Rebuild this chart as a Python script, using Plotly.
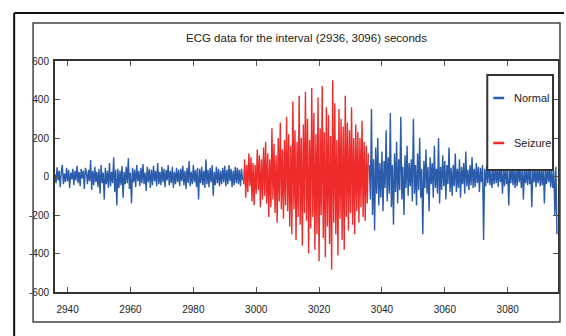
import numpy as np
import plotly.graph_objects as go

# Sampling set-up for the three ECG segments (samples per second)
fs = 3
normal_start_1 = 2936
seizure_start = 2996
normal_start_2 = 3036

# ECG amplitude, first normal segment (2936-2996 s)
normal_1 = [
    12, -35, 48, -20, 30, -55, 25, 60, -40, 15, -30, 45, -25, 35, -60, 20, -15, 40, -45, 30,
    -20, 55, -35, 25, -50, 40, -10, 30, -65, 45, 20, -40, 35, -25, 85, -70, 30, -45, 50, -30,
    25, -55, 40, -90, 60, -35, 20, -120, 45, -40, 30, -60, 70, -50, 25, -35, 100, -80, 35, -150,
    40, -60, 30, -45, 55, -110, 25, -40, 50, -35, 95, -65, 20, -140, 45, -30, 35, -55, 60, -25,
    30, -50, 45, -35, 65, -40, 20, -75, 50, -30, 40, -60, 35, -45, 55, -25, 30, -50, 70, -40,
    25, -45, 50, -30, 40, -55, 35, -20, 60, -45, 30, -35, 50, -60, 25, -40, 45, -30, 35, -50,
    40, -25, 55, -45, 30, -65, 45, -35, 80, -50, 25, -40, 60, -30, 35, -55, 45, -120, 40, -35,
    50, -45, 30, -60, 90, -40, 35, -55, 45, -30, 60, -100, 25, -45, 50, -35, 40, -50, 30, -40,
    45, -30, 55, -50, 35, -40, 60, -25, 40, -55, 30, -45, 50, -35, 45, -40, 35, -50, 40, -20,
]

# ECG amplitude during the seizure (2996-3036 s)
seizure = [
    -40, 90, -110, 60, -80, 120, -50, 100, -130, 70, -150, 60, -90, 140, -70, 110, -160, 90, -120, 150,
    -100, 180, -140, 120, -210, 90, -160, 250, -120, 170, -190, 110, -240, 200, -130, 280, -170, 140, -220, 190,
    -150, 310, -180, 220, -260, 160, -300, 390, -170, 240, -330, 180, -210, 420, -250, 200, -360, 270, -190, 440,
    -230, 300, -400, 190, -270, 460, -210, 330, -380, 220, -300, 410, -440, 250, -200, 470, -320, 230, -420, 360,
    -260, 320, -350, 210, -485, 500, -240, 380, -300, 190, -410, 350, -220, 300, -330, 260, -380, 420, -210, 280,
    -280, 240, -190, 360, -250, 200, -300, 270, -180, 230, -240, 200, -160, 290, -210, 180, -230, 160, -140, 120,
]

# ECG amplitude, second normal segment (3036-3096 s)
normal_2 = [
    60, -120, 350, -200, 90, -280, 150, -90, 200, -150, 70, -110, 130, -180, 80, -60, 240, -130, 100, -90,
    330, -160, 60, -250, 120, -80, 180, -140, 90, -70, 310, -120, 50, -200, 110, -60, 160, -100, 70, -50,
    90, -130, 300, -90, 60, -150, 120, -70, 200, -110, 40, -300, 80, -60, 140, -90, 50, -180, 100, -40,
    70, -110, 160, -60, 40, -90, 200, -140, 50, -70, 110, -50, 80, -120, 60, -40, 150, -80, 45, -100,
    60, -50, 120, -80, 40, -60, 90, -110, 50, -40, 70, -90, 130, -50, 35, -70, 60, -45, 100, -60,
    40, -55, 70, -35, 50, -80, 45, -30, 60, -330, 40, -50, 55, -35, 80, -45, 30, -60, 45, -40,
    50, -35, 40, -55, 65, -30, 45, -90, 35, -50, 60, -40, 30, -150, 45, -35, 55, -45, 40, -60,
    35, -50, 70, -30, 45, -60, 40, -120, 55, -35, 30, -45, 60, -40, 50, -160, 35, -30, 45, -55,
    40, -35, 55, -50, 30, -45, 60, -140, 35, -40, 50, -30, 45, -55, 40, -60, 30, -200, 50, -300,
]

x_ticks = [2940, 2960, 2980, 3000, 3020, 3040, 3060, 3080]
y_ticks = [600, 400, 200, 0, -200, -400, -600]
title_text = "ECG data for the interval (2936, 3096) seconds"
legend_labels = ["Normal", "Seizure"]

BLUE = "#2b5cab"
RED = "#ee2a2a"
FONT = "Liberation Sans, Arial, sans-serif"


def times(start, values):
    return start + np.arange(len(values)) / fs


fig = go.Figure()
fig.add_trace(go.Scatter(x=times(normal_start_1, normal_1), y=normal_1, mode="lines",
                         line=dict(color=BLUE, width=1.4), name="Normal", showlegend=False))
fig.add_trace(go.Scatter(x=times(seizure_start, seizure), y=seizure, mode="lines",
                         line=dict(color=RED, width=1.4), name="Seizure", showlegend=False))
fig.add_trace(go.Scatter(x=times(normal_start_2, normal_2), y=normal_2, mode="lines",
                         line=dict(color=BLUE, width=1.4), name="Normal", showlegend=False))

W, H = 566, 336
L, R, T, B = 55, 560, 61, 292


def px(x):
    return (x - L) / (R - L)


def py(y):
    return (B - y) / (B - T)


shapes = [
    # outer page frame
    dict(type="line", xref="paper", yref="paper", x0=px(14), x1=px(566), y0=py(13), y1=py(13),
         line=dict(color="#111", width=2)),
    dict(type="line", xref="paper", yref="paper", x0=px(14), x1=px(14), y0=py(13), y1=py(336),
         line=dict(color="#111", width=2)),
    # figure frame
    dict(type="rect", xref="paper", yref="paper", x0=px(33), x1=px(562), y0=py(23), y1=py(322),
         line=dict(color="#444", width=1.5)),
    # legend box
    dict(type="rect", xref="paper", yref="paper", x0=px(489), x1=px(555), y0=py(75), y1=py(170),
         line=dict(color="#333", width=2), fillcolor="white", layer="above"),
]
annotations = [
    dict(text=title_text, xref="paper", yref="paper", x=px(308), y=py(38), showarrow=False,
         font=dict(family=FONT, size=11.5, color="#222"), xanchor="center", yanchor="middle"),
]
for label, color, ypix in zip(legend_labels, [BLUE, RED], [98, 143]):
    shapes.append(dict(type="line", xref="paper", yref="paper", x0=px(495), x1=px(506),
                       y0=py(ypix), y1=py(ypix), line=dict(color=color, width=2.5), layer="above"))
    annotations.append(dict(text=label, xref="paper", yref="paper", x=px(514), y=py(ypix),
                            showarrow=False, xanchor="left", yanchor="middle",
                            font=dict(family=FONT, size=11, color="#222")))

axis_common = dict(showgrid=False, zeroline=False, showline=True, linecolor="#333", linewidth=2,
                   mirror="allticks", ticks="inside", ticklen=5, tickcolor="#555", tickwidth=1,
                   tickfont=dict(family=FONT, size=10, color="#222"))

fig.update_layout(
    width=W, height=H,
    margin=dict(l=L, r=W - R, t=T, b=H - B),
    paper_bgcolor="white", plot_bgcolor="white",
    showlegend=False,
    shapes=shapes, annotations=annotations,
    xaxis=dict(range=[2936, 3096], tickvals=x_ticks, ticktext=[str(v) for v in x_ticks],
               ticklabelstandoff=7, **axis_common),
    yaxis=dict(range=[-600, 600], tickvals=y_ticks, ticktext=[str(v) for v in y_ticks],
               ticklabelstandoff=2, **axis_common),
)

fig.write_html("out.html")
